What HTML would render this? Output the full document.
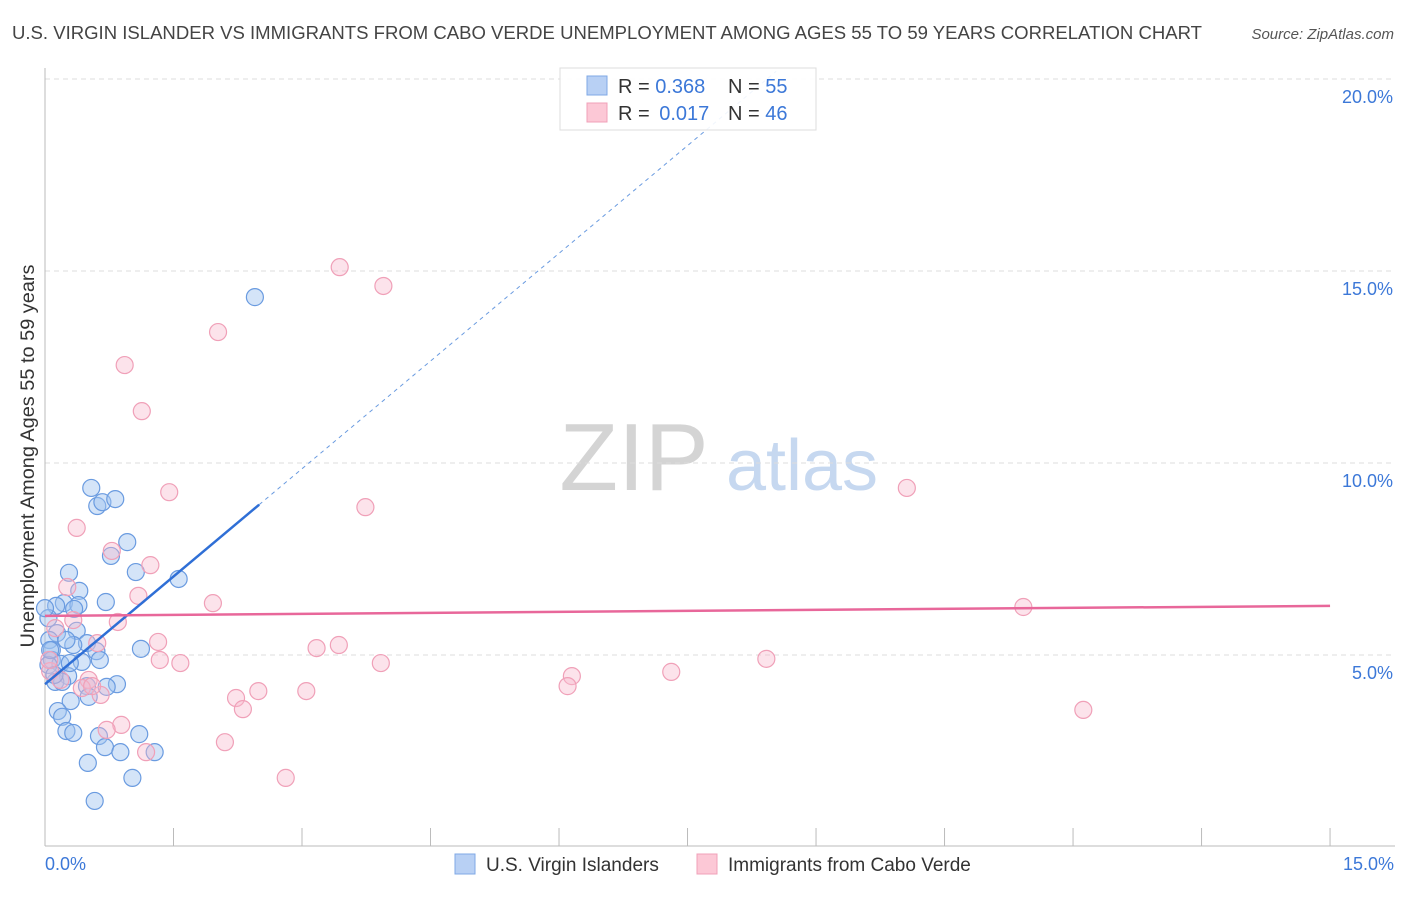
<!DOCTYPE html>
<html><head><meta charset="utf-8"><style>
body{margin:0;background:#fff;font-family:"Liberation Sans",sans-serif;}
svg text{font-family:"Liberation Sans",sans-serif;}
</style></head><body>
<svg id="chart" width="1406" height="892" xmlns="http://www.w3.org/2000/svg">
<text x="12" y="39" font-size="18" fill="#444" textLength="1190" lengthAdjust="spacingAndGlyphs">U.S. VIRGIN ISLANDER VS IMMIGRANTS FROM CABO VERDE UNEMPLOYMENT AMONG AGES 55 TO 59 YEARS CORRELATION CHART</text>
<text x="1394" y="39" font-size="15" fill="#555" font-style="italic" text-anchor="end">Source: ZipAtlas.com</text>
<g>
<text x="634" y="490" font-size="96" fill="#d4d4d4" font-family="Liberation Serif" text-anchor="middle">ZIP</text>
<text x="802" y="490" font-size="72" fill="#c6d8f0" text-anchor="middle">atlas</text>
</g>
<g id="grid"></g>
<g id="axes"></g>
<g id="marks"></g>
<g id="lines"></g>
<text transform="translate(34,456) rotate(-90)" font-size="19" fill="#333" text-anchor="middle" textLength="383" lengthAdjust="spacingAndGlyphs">Unemployment Among Ages 55 to 59 years</text>
<g>
<rect x="560" y="68" width="256" height="62" fill="rgba(255,255,255,0.9)" stroke="#ddd"/>
<rect x="587" y="76" width="20" height="19" fill="#b8d0f4" stroke="#7fa8e6"/>
<rect x="587" y="103" width="20" height="19" fill="#fcc8d6" stroke="#f0a0b8"/>
<text x="618" y="93" font-size="20" fill="#333">R = <tspan fill="#3c78d8">0.368</tspan></text>
<text x="728" y="93" font-size="20" fill="#333">N = <tspan fill="#3c78d8">55</tspan></text>
<text x="618" y="120" font-size="20" fill="#333">R = <tspan fill="#3c78d8" dx="4">0.017</tspan></text>
<text x="728" y="120" font-size="20" fill="#333">N = <tspan fill="#3c78d8">46</tspan></text>
</g>
<g>
<rect x="455" y="854" width="20" height="20" fill="#b8d0f4" stroke="#7fa8e6"/>
<text x="486" y="871" font-size="19" fill="#333">U.S. Virgin Islanders</text>
<rect x="697" y="854" width="20" height="20" fill="#fcc8d6" stroke="#f0a0b8"/>
<text x="728" y="871" font-size="19" fill="#333">Immigrants from Cabo Verde</text>
</g>
</svg>
<script>
const yTicks=[5,10,15,20];
const yTickLabels=["5.0%","10.0%","15.0%","20.0%"];
const xTickCount=10;
const blueX=[2.45,0.54,0.61,0.67,0.82,0.96,0.77,1.06,1.56,0.28,0.40,0.71,0.22,0.39,0.13,0.34,0.37,0.14,0.05,0.49,0.33,0.60,1.12,0.08,0.08,0.18,0.43,0.04,0.27,0.12,0.20,0.49,0.84,0.72,0.51,0.30,0.15,0.20,0.25,0.33,0.63,1.10,0.70,0.88,1.28,0.50,1.02,0.58,0.04,0.11,0.06,0.29,0.64,0.00,0.25];
const blueY=[14.32,9.35,8.88,8.98,9.06,7.94,7.58,7.16,6.98,7.14,6.67,6.38,6.35,6.30,6.28,6.20,5.63,5.57,5.39,5.31,5.26,5.10,5.16,5.13,4.87,4.77,4.82,4.74,4.45,4.30,4.30,4.19,4.24,4.17,3.91,3.80,3.54,3.39,3.02,2.97,2.89,2.94,2.60,2.47,2.47,2.19,1.80,1.20,5.96,4.48,5.13,4.79,4.87,6.22,5.39];
const pinkX=[3.44,3.95,2.02,0.93,1.13,1.45,10.06,3.74,0.37,0.78,1.23,0.26,1.09,1.96,11.42,0.85,0.33,1.32,0.61,3.17,3.43,1.34,1.58,3.92,8.42,7.31,6.15,6.10,0.51,0.43,2.49,3.05,0.65,2.23,2.31,12.12,0.89,0.72,2.10,1.18,2.81,0.12,0.06,0.18,0.05,0.55];
const pinkY=[15.10,14.61,13.41,12.55,11.35,9.24,9.35,8.85,8.31,7.71,7.34,6.77,6.54,6.35,6.25,5.86,5.91,5.34,5.31,5.18,5.26,4.87,4.79,4.79,4.90,4.56,4.45,4.19,4.35,4.14,4.06,4.06,3.96,3.88,3.59,3.57,3.18,3.05,2.73,2.47,1.80,5.70,4.58,4.35,4.87,4.19];
const blueTrend=[4.24,1.87]; // intercept, slope
const pinkTrend=[6.02,0.0173];
const NS="http://www.w3.org/2000/svg";
const sx=v=>45+v*85.67, sy=v=>847-v*38.4;
function mk(tag,attrs,parent){const e=document.createElementNS(NS,tag);for(const k in attrs)e.setAttribute(k,attrs[k]);parent.appendChild(e);return e;}
const grid=document.getElementById('grid'),axes=document.getElementById('axes'),marks=document.getElementById('marks'),lines=document.getElementById('lines');
yTicks.forEach((t,i)=>{
 const l=mk('line',{x1:45,x2:1395,y1:sy(t),y2:sy(t),stroke:'#ddd','stroke-dasharray':'5,4'},grid);
 
 
 const tx=mk('text',{x:1393,y:sy(t)+24,'font-size':18,fill:'#3c78d8','text-anchor':'end'},axes);
 tx.textContent=yTickLabels[i];
 
 
});
const ya=mk('line',{x1:45,x2:45,y1:68,y2:846,stroke:'#bbb'},axes);


const xa=mk('line',{x1:45,x2:1395,y1:846,y2:846,stroke:'#bbb'},axes);


for(let i=1;i<=xTickCount;i++){
 const t=mk('line',{x1:sx(i*1.5),x2:sx(i*1.5),y1:828,y2:846,stroke:'#bbb'},axes);
 
 
}
const x0=mk('text',{x:45,y:870,'font-size':18,fill:'#3c78d8'},axes);x0.textContent='0.0%';


const x1=mk('text',{x:1394,y:870,'font-size':18,fill:'#3c78d8','text-anchor':'end'},axes);x1.textContent='15.0%';


blueX.forEach((x,i)=>{
 const c=mk('circle',{cx:sx(x),cy:sy(blueY[i]),r:8.5,fill:'rgba(160,195,240,0.45)',stroke:'#6a9be0','stroke-width':1.2},marks);
 
 
});
pinkX.forEach((x,i)=>{
 const c=mk('circle',{cx:sx(x),cy:sy(pinkY[i]),r:8.5,fill:'rgba(248,185,205,0.4)',stroke:'#f0a0b8','stroke-width':1.2},marks);
 
 
});
const bEnd=(20.2-blueTrend[0])/blueTrend[1];
const bd=mk('line',{x1:sx(2.5),y1:sy(blueTrend[0]+blueTrend[1]*2.5),x2:sx(bEnd),y2:sy(20.2),stroke:'#6a9be0','stroke-width':1,'stroke-dasharray':'4,4'},lines);


const bs=mk('line',{x1:sx(0),y1:sy(blueTrend[0]),x2:sx(2.5),y2:sy(blueTrend[0]+blueTrend[1]*2.5),stroke:'#2f6fd6','stroke-width':2.5},lines);


const ps=mk('line',{x1:sx(0),y1:sy(pinkTrend[0]),x2:sx(15),y2:sy(pinkTrend[0]+pinkTrend[1]*15),stroke:'#e8679a','stroke-width':2.5},lines);


</script>
</body></html>
